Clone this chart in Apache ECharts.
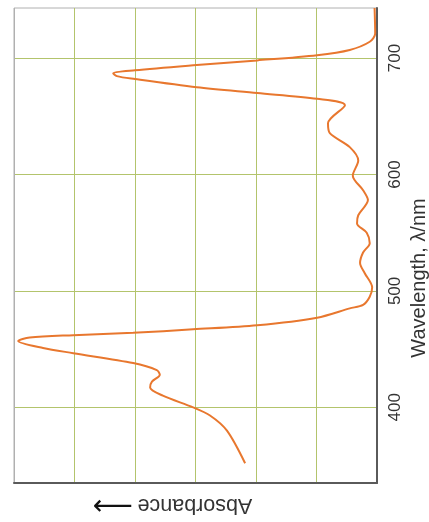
<!DOCTYPE html>
<html>
<head>
<meta charset="utf-8">
<script src="https://cdn.jsdelivr.net/npm/echarts@6/dist/echarts.min.js"></script>
<style>
  html, body { margin: 0; padding: 0; background: #fff; }
  #chart { width: 429px; height: 522px; }
</style>
</head>
<body>
<div id="chart"></div>
<script>
// Absorption spectrum, drawn with wavelength running up the page and absorbance growing to the left.
const wavelengths = [352, 380, 393, 400, 410, 417, 422, 428, 432, 438, 446.5, 451, 457, 460, 462, 464, 467, 470.5, 477, 485, 488, 495, 503, 515, 524, 533, 541, 550, 558, 565, 578, 586.5, 599, 612, 623.5, 635.5, 644, 659.5, 665, 670, 675, 682, 684.5, 687, 689.5, 694, 698, 702.5, 707, 714, 721, 743];
const absorbance = [2.18, 2.48, 2.76, 3.04, 3.54, 3.75, 3.72, 3.59, 3.64, 4.03, 5.02, 5.52, 5.93, 5.74, 5.02, 4.03, 3.04, 1.98, 0.99, 0.45, 0.23, 0.12, 0.08, 0.20, 0.28, 0.23, 0.12, 0.17, 0.33, 0.31, 0.15, 0.23, 0.40, 0.31, 0.45, 0.78, 0.81, 0.53, 0.99, 1.98, 2.98, 4.00, 4.30, 4.36, 4.00, 2.98, 1.98, 0.99, 0.45, 0.12, 0.03, 0.04];
const wavelengthTicks = [400, 500, 600, 700];

const gridGreen = '#b3c46c';
const frameGray = '#b0b0b0';
const axisDark = '#5a5a5a';
const textColor = '#333';
const fontFamily = '"Liberation Sans", Arial, Helvetica, sans-serif';

const points = wavelengths.map((w, i) => [absorbance[i], w]);

const chart = echarts.init(document.getElementById('chart'), null, { renderer: 'canvas' });
chart.setOption({
  animation: false,
  backgroundColor: '#fff',
  grid: {
    left: 14, right: 52, top: 8, bottom: 39,
    show: true, borderColor: frameGray, borderWidth: 1, backgroundColor: 'transparent'
  },
  xAxis: {
    type: 'value',
    inverse: true,
    min: 0, max: 6, interval: 1,
    axisLine: { show: true, onZero: false, lineStyle: { color: axisDark, width: 2 } },
    axisTick: { show: false },
    axisLabel: { show: false },
    splitLine: {
      show: true,
      lineStyle: { color: [axisDark, gridGreen, gridGreen, gridGreen, gridGreen, gridGreen, frameGray], width: 1 }
    }
  },
  yAxis: {
    type: 'value',
    position: 'right',
    min: 335, max: 743,
    axisLine: { show: true, onZero: false, lineStyle: { color: axisDark, width: 2 } },
    axisTick: { show: false, customValues: wavelengthTicks },
    axisLabel: {
      customValues: wavelengthTicks,
      rotate: 90,
      margin: 10,
      color: textColor,
      fontSize: 17,
      fontFamily: fontFamily
    },
    splitLine: { show: true, lineStyle: { color: gridGreen, width: 1 } }
  },
  graphic: [
    {
      type: 'text',
      x: 419, y: 278,
      rotation: Math.PI / 2,
      style: {
        text: 'Wavelength, λ/nm',
        fontSize: 20,
        fontFamily: fontFamily,
        fill: textColor,
        align: 'center',
        verticalAlign: 'middle'
      }
    },
    {
      // absorbance title, turned upside down with its arrow pointing left
      type: 'text',
      x: 195, y: 505,
      rotation: Math.PI,
      style: {
        text: 'Absorbance',
        fontSize: 21.5,
        fontFamily: fontFamily,
        fill: textColor,
        align: 'center',
        verticalAlign: 'middle'
      }
    },
    {
      type: 'text',
      x: 113, y: 504,
      rotation: Math.PI,
      style: {
        text: '⟶',
        fontSize: 28,
        fontFamily: '"DejaVu Sans", sans-serif',
        fill: '#111',
        align: 'center',
        verticalAlign: 'middle'
      }
    }
  ],
  series: [{
    type: 'line',
    data: points,
    smooth: 0.3,
    showSymbol: false,
    lineStyle: { color: '#e8772e', width: 2 },
    z: 5
  }]
});
</script>
</body>
</html>
